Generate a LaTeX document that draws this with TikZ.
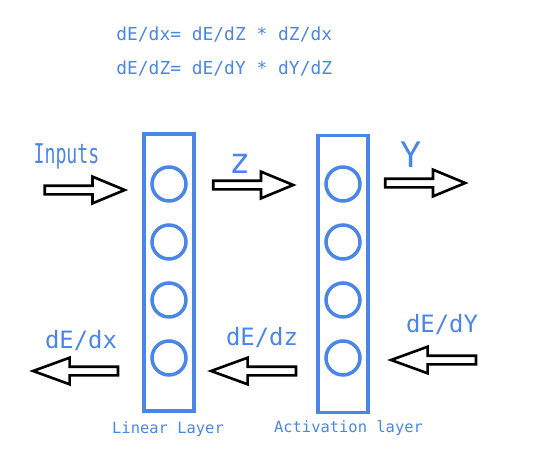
\documentclass[tikz,border=0pt]{standalone}
\usepackage{fontspec}
\setmonofont{DejaVu Sans Mono}
\usetikzlibrary{shapes.arrows, arrows}
\definecolor{nnblue}{HTML}{4A86E8}
\tikzstyle{layer} = [rectangle, minimum width=1.0cm, minimum height=5.54cm, draw=nnblue, line width=2.2pt]
\tikzstyle{neuron} = [circle, minimum size=0.68cm, inner sep=0, draw=nnblue, line width=2pt]
\tikzstyle{flow} = [single arrow, draw=black, line width=1.5pt, inner xsep=0, inner ysep=0.06cm,
minimum height=1.6cm, single arrow head extend=0.18cm, single arrow tip angle=45]
\tikzstyle{grad} = [flow, shape border rotate=180, minimum height=1.7cm, single arrow tip angle=40]
\tikzstyle{formula} = [text=nnblue, inner sep=0, anchor=base west, font=\ttfamily\fontsize{10.2}{12}\selectfont]
\tikzstyle{signal} = [text=nnblue, inner sep=0, anchor=base, font=\ttfamily\fontsize{20}{22}\selectfont]
\tikzstyle{gradtext} = [text=nnblue, inner sep=0, anchor=base, font=\ttfamily\fontsize{13.6}{16}\selectfont]
\tikzstyle{caption} = [text=nnblue, inner sep=0, anchor=base, font=\ttfamily\fontsize{8.8}{10}\selectfont]

\begin{document}
\begin{tikzpicture}[x=0.02cm, y=-0.02cm, node distance=1.16cm]
\useasboundingbox (0,0) rectangle (534,463);

% ------------------------- chain rule -------------------------
\node(chainx)[formula] at (116,40) {dE/dx= dE/dZ * dZ/dx};
\node(chainz)[formula] at (116,74) {dE/dZ= dE/dY * dY/dZ};

% ------------------------- layers -------------------------
% ----- linear layer
\node(lin)[layer] at (169,272.5) {};
\node(l1)[neuron] at (169,184) {};
\node(l2)[neuron, below of=l1] {};
\node(l3)[neuron, below of=l2] {};
\node(l4)[neuron, below of=l3] {};
\node(lincap)[caption] at (168,433) {Linear Layer};
% ----- activation layer
\node(act)[layer] at (343,274) {};
\node(a1)[neuron] at (343,184) {};
\node(a2)[neuron, below of=a1] {};
\node(a3)[neuron, below of=a2] {};
\node(a4)[neuron, below of=a3] {};
\node(actcap)[caption] at (348.5,432) {Activation layer};

% ------------------------- forward pass -------------------------
\node(inarrow)[flow] at (79.5,190) {};
\node(zarrow)[flow] at (248,185) {};
\node(yarrow)[flow] at (420,183) {};
\node(inputs)[signal, font=\ttfamily\fontsize{15.5}{18}\selectfont] at (66.5,163) {\scalebox{0.67}[1]{Inputs}};
\node(z)[signal] at (240,173) {z};
\node(y)[signal] at (411,167) {Y};

% ------------------------- backward pass -------------------------
\node(dxarrow)[grad] at (81.5,371) {};
\node(dzarrow)[grad] at (259.5,371) {};
\node(dyarrow)[grad] at (439.5,360) {};
\node(dx)[gradtext] at (81,348) {dE/dx};
\node(dz)[gradtext] at (262,345) {dE/dz};
\node(dy)[gradtext] at (442,332) {dE/dY};
\end{tikzpicture}
\end{document}
